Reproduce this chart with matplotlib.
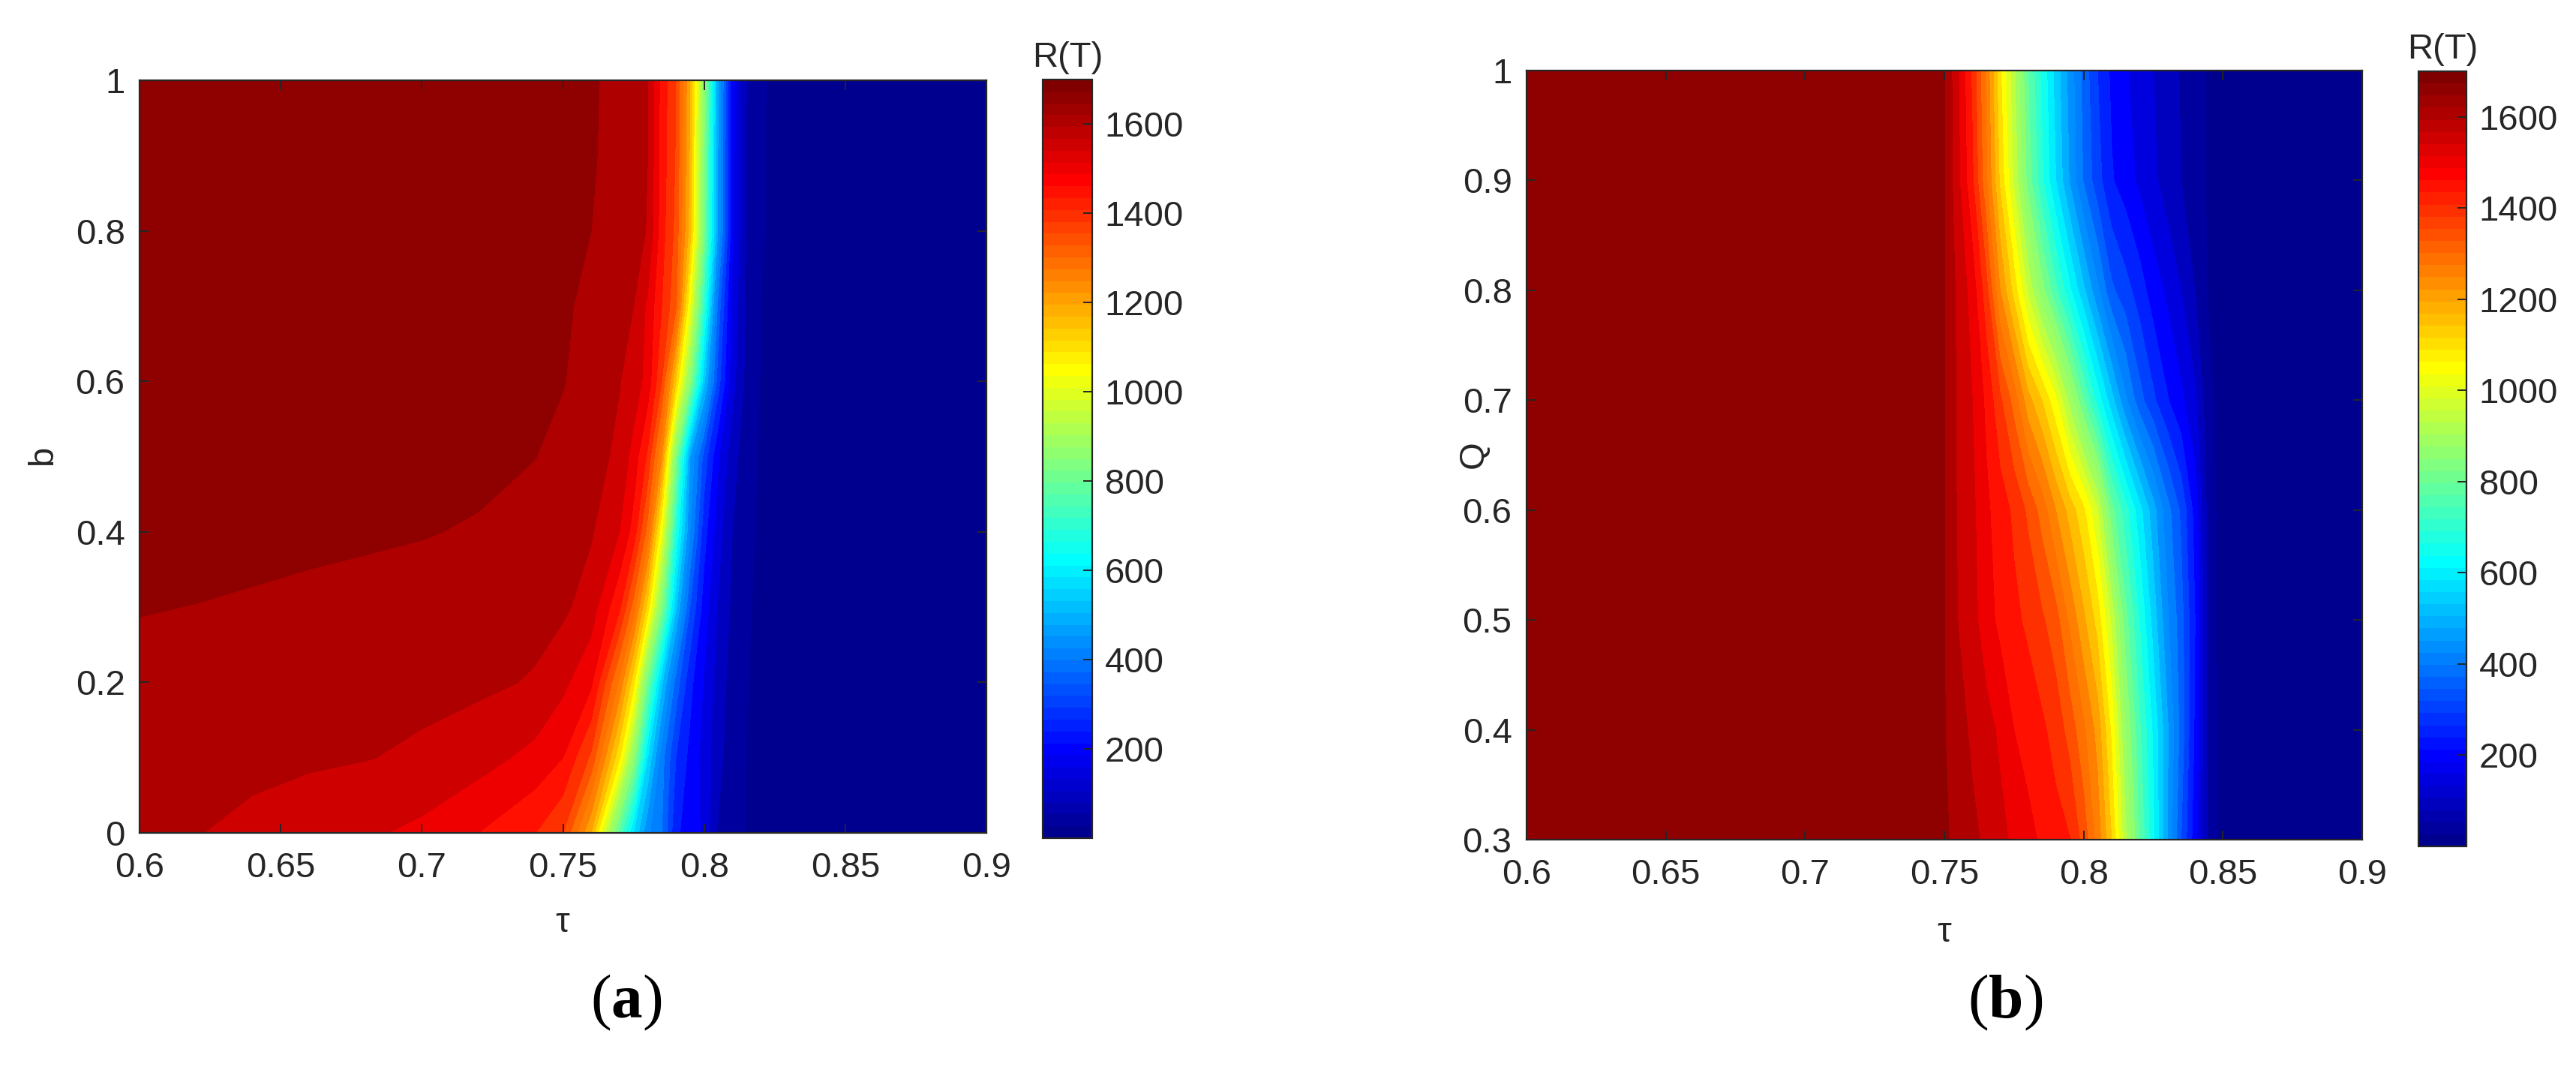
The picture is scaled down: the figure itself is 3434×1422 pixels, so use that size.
import numpy as np
import matplotlib
matplotlib.use("Agg")
import matplotlib.pyplot as plt
from matplotlib.colors import ListedColormap, Normalize
from matplotlib.cm import ScalarMappable

# ---------------- data ----------------
# panel (a): R(T) over tau (columns) and b (rows)
tau_a = [0.60, 0.62, 0.64, 0.66, 0.68, 0.70, 0.72, 0.74, 0.75, 0.76, 0.77, 0.775,
         0.78, 0.785, 0.79, 0.795, 0.80, 0.805, 0.81, 0.815, 0.82, 0.83, 0.85, 0.90]
b_vals = [0.0, 0.1, 0.2, 0.3, 0.4, 0.5, 0.6, 0.7, 0.8, 0.9, 1.0]
R_a = [
    [1612, 1602, 1588, 1573, 1558, 1538, 1500, 1452, 1400, 1200, 780, 600, 460, 400, 260, 225, 190, 95, 65, 48, 36, 22, 12, 5],
    [1622, 1617, 1612, 1607, 1602, 1592, 1570, 1535, 1500, 1390, 1110, 880, 600, 420, 300, 235, 180, 115, 72, 50, 37, 22, 12, 5],
    [1630, 1627, 1624, 1620, 1616, 1613, 1610, 1596, 1562, 1510, 1290, 1120, 820, 560, 380, 265, 195, 125, 80, 52, 38, 23, 12, 5],
    [1653, 1649, 1644, 1638, 1632, 1626, 1620, 1614, 1610, 1575, 1460, 1330, 1130, 850, 560, 350, 225, 145, 90, 56, 40, 24, 12, 5],
    [1675, 1670, 1666, 1662, 1658, 1653, 1645, 1630, 1620, 1605, 1550, 1480, 1330, 1050, 700, 450, 270, 170, 100, 62, 42, 25, 13, 5],
    [1690, 1689, 1688, 1685, 1680, 1674, 1664, 1651, 1637, 1618, 1590, 1530, 1440, 1250, 850, 500, 330, 205, 120, 70, 45, 26, 13, 5],
    [1692, 1692, 1691, 1689, 1686, 1682, 1674, 1658, 1652, 1632, 1602, 1580, 1530, 1400, 1150, 870, 560, 320, 170, 85, 48, 27, 14, 5],
    [1693, 1693, 1692, 1690, 1688, 1685, 1678, 1664, 1656, 1640, 1615, 1600, 1540, 1450, 1360, 1050, 720, 380, 180, 90, 50, 28, 14, 5],
    [1694, 1694, 1693, 1692, 1690, 1688, 1682, 1670, 1662, 1650, 1625, 1612, 1598, 1470, 1385, 1175, 840, 490, 210, 98, 54, 30, 15, 5],
    [1695, 1695, 1694, 1693, 1692, 1690, 1684, 1674, 1667, 1656, 1628, 1614, 1600, 1478, 1395, 1190, 850, 490, 210, 98, 54, 30, 15, 5],
    [1695, 1695, 1694, 1693, 1692, 1690, 1685, 1675, 1668, 1658, 1630, 1615, 1600, 1480, 1400, 1200, 870, 500, 215, 100, 55, 30, 15, 5],
]

# panel (b): R(T) over tau (columns) and Q (rows)
tau_b = [0.60, 0.65, 0.70, 0.74, 0.75, 0.755, 0.76, 0.765, 0.77, 0.775, 0.78, 0.785, 0.79,
         0.795, 0.80, 0.805, 0.81, 0.815, 0.82, 0.825, 0.83, 0.835, 0.84, 0.845, 0.85, 0.86, 0.90]
q_vals = [0.3, 0.4, 0.5, 0.6, 0.7, 0.8, 0.9, 1.0]
R_b = [
    [1695, 1692, 1685, 1672, 1655, 1640, 1612, 1590, 1565, 1540, 1515, 1492, 1470, 1452, 1380, 1280, 1150, 960, 800, 660, 500, 350, 220, 80, 28, 20, 8],
    [1695, 1692, 1685, 1672, 1652, 1620, 1590, 1570, 1540, 1500, 1480, 1460, 1430, 1380, 1310, 1230, 1090, 900, 760, 640, 510, 380, 240, 75, 28, 20, 8],
    [1695, 1692, 1685, 1672, 1652, 1598, 1570, 1520, 1488, 1462, 1440, 1408, 1370, 1290, 1210, 1130, 990, 820, 700, 580, 460, 370, 250, 70, 28, 20, 8],
    [1695, 1692, 1685, 1672, 1652, 1592, 1562, 1510, 1475, 1440, 1390, 1330, 1250, 1180, 1110, 1000, 820, 720, 620, 520, 420, 340, 230, 70, 30, 20, 8],
    [1695, 1692, 1685, 1672, 1652, 1590, 1550, 1490, 1410, 1330, 1220, 1150, 1060, 930, 800, 680, 570, 460, 370, 310, 255, 210, 160, 60, 32, 20, 8],
    [1695, 1692, 1685, 1672, 1652, 1585, 1530, 1420, 1250, 1130, 990, 870, 760, 660, 560, 460, 360, 320, 275, 225, 190, 150, 100, 45, 32, 20, 8],
    [1695, 1692, 1685, 1672, 1652, 1560, 1460, 1310, 1140, 990, 830, 710, 600, 495, 395, 320, 255, 225, 190, 160, 128, 100, 70, 43, 30, 20, 8],
    [1695, 1692, 1685, 1672, 1652, 1555, 1440, 1290, 1110, 960, 800, 690, 580, 480, 380, 300, 240, 205, 180, 150, 122, 96, 68, 42, 30, 20, 8],
]

levels = list(range(0, 1701, 50))
c_min, c_max = 0, 1700
cbar_ticks = [200, 400, 600, 800, 1000, 1200, 1400, 1600]
xticks = [0.6, 0.65, 0.7, 0.75, 0.8, 0.85, 0.9]
yticks_a = [0, 0.2, 0.4, 0.6, 0.8, 1.0]
yticks_b = [0.3, 0.4, 0.5, 0.6, 0.7, 0.8, 0.9, 1.0]


def matlab_jet(m=64):
    n = int(np.ceil(m / 4))
    u = np.concatenate([np.arange(1, n + 1) / n, np.ones(n - 1), np.arange(n, 0, -1) / n])
    g = int(np.ceil(n / 2)) - (1 if m % 4 == 1 else 0) + np.arange(1, len(u) + 1)
    r = g + n
    bb = g - n
    J = np.zeros((m, 3))
    k = r <= m
    J[r[k] - 1, 0] = u[k]
    k = g <= m
    J[g[k] - 1, 1] = u[k]
    k = bb >= 1
    J[bb[k] - 1, 2] = u[k]
    return J


JET = matlab_jet(64)
band_colors = [tuple(JET[min(63, int(np.floor((L - c_min) / (c_max - c_min) * 64)))])
               for L in levels[:-1]]

W, H, DPI = 3434, 1422, 100
fig = plt.figure(figsize=(W / DPI, H / DPI), dpi=DPI)
fig.patch.set_facecolor("white")

SANS = ["Liberation Sans", "DejaVu Sans"]
FS = 34
EDGE = "#262626"


def px_rect(l, t, r, b):
    return [l / W, 1 - b / H, (r - l) / W, (b - t) / H]


def fmt(v):
    return ("%g" % v)


def style_axes(ax, xt, yt):
    ax.set_xticks(xt)
    ax.set_xticklabels([fmt(v) for v in xt], fontsize=FS, family=SANS)
    ax.set_yticks(yt)
    ax.set_yticklabels([fmt(v) for v in yt], fontsize=FS, family=SANS)
    ax.tick_params(direction="in", top=True, right=True, length=9, width=1.4,
                   color=EDGE, labelcolor="#262626")
    ax.tick_params(axis="x", pad=18)
    ax.tick_params(axis="y", pad=14)
    for s in ax.spines.values():
        s.set_color(EDGE)
        s.set_linewidth(1.6)


def add_cbar(rect):
    cax = fig.add_axes(rect)
    sm = ScalarMappable(norm=Normalize(c_min, c_max), cmap=ListedColormap(JET))
    cb = fig.colorbar(sm, cax=cax)
    cb.set_ticks(cbar_ticks)
    cb.ax.set_yticklabels([str(v) for v in cbar_ticks], fontsize=FS, family=SANS, color="#262626")
    cb.ax.tick_params(direction="in", length=9, width=1.4, color=EDGE, pad=12)
    cb.outline.set_edgecolor(EDGE)
    cb.outline.set_linewidth(1.6)
    cb.ax.set_title("R(T)", fontsize=FS, family=SANS, pad=12, color="#262626")
    return cb


# ---------------- panel (a) ----------------
ax1 = fig.add_axes(px_rect(186, 107, 1315, 1110))
Xa, Ya = np.meshgrid(tau_a, b_vals)
ax1.contourf(Xa, Ya, np.array(R_a, float), levels=levels, colors=band_colors, antialiased=False)
ax1.set_xlim(0.6, 0.9)
ax1.set_ylim(0, 1)
style_axes(ax1, xticks, yticks_a)
add_cbar(px_rect(1390, 106, 1456, 1117))

# ---------------- panel (b) ----------------
ax2 = fig.add_axes(px_rect(2035, 94, 3149, 1119))
Xb, Yb = np.meshgrid(tau_b, q_vals)
ax2.contourf(Xb, Yb, np.array(R_b, float), levels=levels, colors=band_colors, antialiased=False)
ax2.set_xlim(0.6, 0.9)
ax2.set_ylim(0.3, 1.0)
style_axes(ax2, xticks, yticks_b)
add_cbar(px_rect(3224, 95, 3288, 1128))

# ---------------- labels ----------------
def ftext(x, y, s, **kw):
    fig.text(x / W, 1 - y / H, s, ha="center", va="center", **kw)


ftext(57, 607, "b", rotation=90, fontsize=FS, family=SANS, color="#262626")
ftext(1965, 606, "Q", rotation=90, fontsize=FS, family=SANS, color="#262626")
ftext(750, 1230, "\u03c4", fontsize=FS, family=SANS, color="#262626")
ftext(2592, 1243, "\u03c4", fontsize=FS, family=SANS, color="#262626")

plt.rcParams["mathtext.fontset"] = "custom"
plt.rcParams["mathtext.rm"] = "Liberation Serif"
plt.rcParams["mathtext.bf"] = "Liberation Serif:bold"
ftext(835, 1336, r"($\mathbf{a}$)", fontsize=60, family="Liberation Serif", color="black")
ftext(2673, 1336, r"($\mathbf{b}$)", fontsize=60, family="Liberation Serif", color="black")

fig.savefig("out.png", dpi=DPI)
